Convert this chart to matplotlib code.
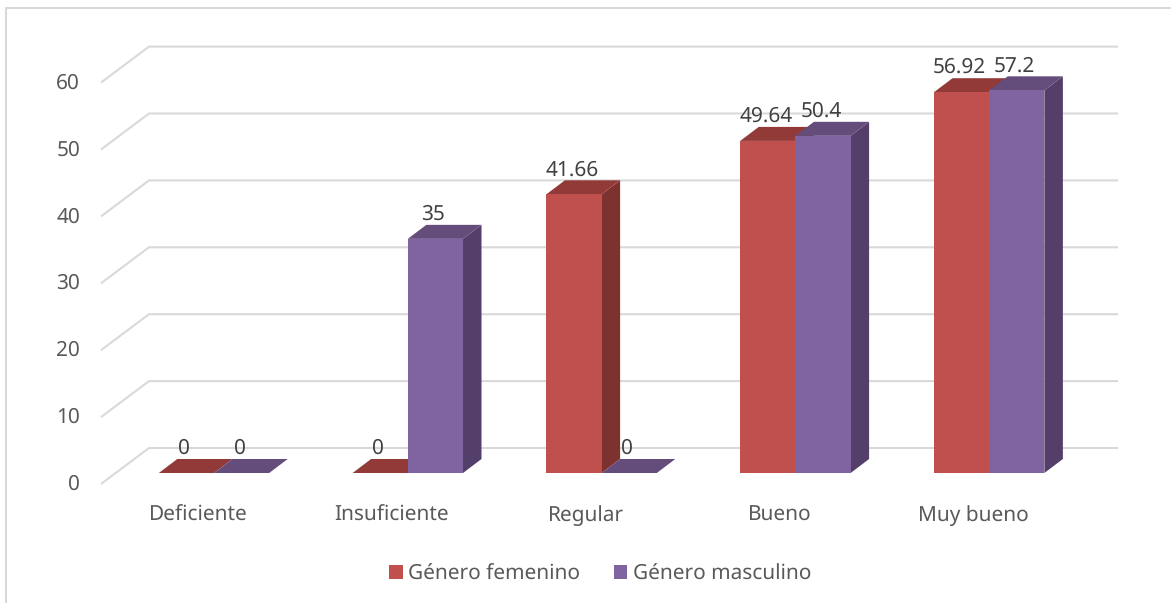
import numpy as np
import matplotlib
matplotlib.use('Agg')
import matplotlib.pyplot as plt
from matplotlib.patches import Polygon, Rectangle

# chart values
categories = ['Deficiente', 'Insuficiente', 'Regular', 'Bueno', 'Muy bueno']
femenino = [0, 0, 41.66, 49.64, 56.92]
masculino = [0, 35, 0, 50.4, 57.2]
y_ticks = [0, 10, 20, 30, 40, 50, 60]
names = ['Género femenino', 'Género masculino']

W, H = 1171, 604
PX_CAT = 193.8     # pixels between two categories
PX_UNIT = 6.69     # pixels per value unit
X0, Y0 = 214, 473  # pixel position of first category centre, value 0
FS = 15

plt.rcParams['font.family'] = ['Noto Sans', 'DejaVu Sans']
plt.rcParams['text.hinting'] = 'no_hinting'
plt.rcParams['text.hinting_factor'] = 1

fig = plt.figure(figsize=(W / 100, H / 100), dpi=100)
ax = fig.add_axes([0, 0, 1, 1])
ax.set_xlim(-X0 / PX_CAT, (W - X0) / PX_CAT)
ax.set_ylim(-(H - Y0) / PX_UNIT, Y0 / PX_UNIT)
ax.axis('off')


def dx(px):
    return px / PX_CAT


def dy(px):
    return px / PX_UNIT


# outer frame of the chart area: only top and left are inside the crop
ax.plot([dx(5.5 - X0), dx(5.5 - X0), dx(W - X0)], [dy(Y0 - 603), dy(Y0 - 8.5), dy(Y0 - 8.5)],
        color='#d9d9d9', lw=1.5, zorder=1, solid_capstyle='butt')

# gridlines: back wall with a slanted part towards the front
for v in y_ticks:
    y_back = v + dy(25)
    xs = [dx(101 - X0), dx(149 - X0), dx(1118 - X0)]
    ys = [y_back - dy(36), y_back, y_back]
    ax.plot(xs, ys, color='#d9d9d9', lw=1.5, zorder=2, solid_capstyle='butt')
    ax.text(dx(80 - X0), v - dy(9), str(v), ha='right', va='center_baseline',
            fontsize=FS, color='#595959')

bar_w = dx(55.2)
depth_x, depth_y = dx(18.5), dy(14)
x = np.arange(len(categories))


def draw_series(xpos, values, front, top, side, z):
    ax.bar(xpos, values, width=bar_w, align='edge', color=front, zorder=z + 0.2)
    for xi, v in zip(xpos, values):
        ax.add_patch(Polygon([(xi, v), (xi + bar_w, v),
                              (xi + bar_w + depth_x, v + depth_y), (xi + depth_x, v + depth_y)],
                             fc=top, ec='none', zorder=z + 0.1))
        if v > 0:
            ax.add_patch(Polygon([(xi + bar_w, 0), (xi + bar_w + depth_x, depth_y),
                                  (xi + bar_w + depth_x, v + depth_y), (xi + bar_w, v)],
                                 fc=side, ec='none', zorder=z))
        ax.text(xi + bar_w / 2 - dx(2), v + dy(27), f'{v:g}', ha='center', va='center_baseline',
                fontsize=FS, color='#404040', zorder=8)


# red first, purple over it
draw_series(x - bar_w, femenino, '#C0504D', '#913A38', '#7E3230', 3)
draw_series(x, masculino, '#8064A2', '#644C7B', '#533F69', 5)

for xi, name in zip(x, categories):
    ax.text(xi - dx(16), -dy(48), name, ha='center', va='baseline', fontsize=FS, color='#595959')

handles = [Rectangle((0, 0), 1, 1, fc='#C0504D'), Rectangle((0, 0), 1, 1, fc='#8064A2')]
ax.legend(handles, names, loc='center', bbox_to_anchor=(600 / W, 1 - 574 / H), ncol=2,
          frameon=False, fontsize=FS, labelcolor='#595959', handlelength=0.65, handleheight=0.65,
          handletextpad=0.25, columnspacing=1.63, borderpad=0)

fig.savefig('out.png', dpi=100)
